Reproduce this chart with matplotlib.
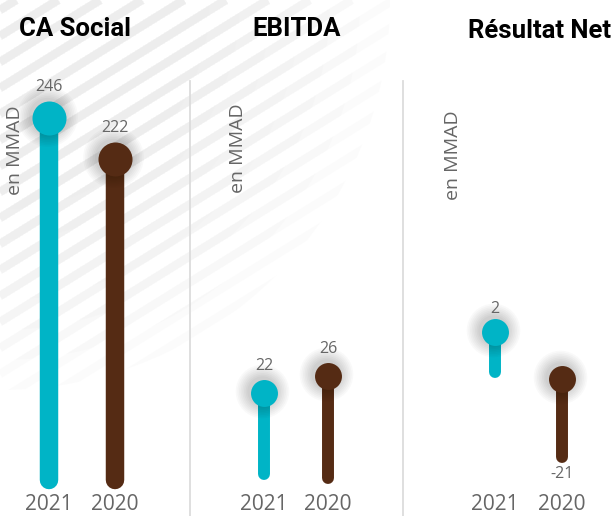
import matplotlib
matplotlib.use('Agg')
import matplotlib.pyplot as plt
import matplotlib.transforms as mtransforms
from matplotlib.patches import Circle

# data
titles = ['CA Social', 'EBITDA', 'Résultat Net']
years = ['2021', '2020']
ca_social = [246, 222]
ebitda = [22, 26]
resultat_net = [2, -21]
unit_label = 'en MMAD'

series = [ca_social, ebitda, resultat_net]

TEAL = '#00B4C6'
BROWN = '#552B14'
GRAY = '#666666'
colors = [TEAL, BROWN]

W, H = 613, 516
fig = plt.figure(figsize=(W / 100, H / 100), dpi=100)
fig.patch.set_facecolor('white')

# faint diagonal stripes in the background (pixel coords), fading out
bg = fig.add_axes([0, 0, 1, 1], zorder=0)
bg.set_xlim(0, W)
bg.set_ylim(H, 0)
bg.axis('off')
for r in range(390, 180, -30):
    clip = Circle((0, 0), r, transform=bg.transData)
    for c in range(10, 760, 26):
        ln, = bg.plot([0, c / 0.62], [c, 0], color='#e8e8e8', lw=6,
                      alpha=0.15, solid_capstyle='butt')
        ln.set_clip_path(clip)

# separators
for xs in (190, 403):
    bg.plot([xs, xs], [81, H], color='#dcdcdc', lw=1.3)

# per-panel layout (pixel centres, y range, stem ends, sizes)
layout = [
    dict(x0=49, sp=66, ylim=(13, 315), floor=(34, 34), stem=13.3, dot=24.5,
         lab=31, title=(75, 29), unit=(15, 150)),
    dict(x0=264, sp=64, ylim=(-6.9, 114.5), floor=(3, 2), stem=8.6, dot=19.4,
         lab=27, title=(297, 29), unit=(238, 148)),
    dict(x0=495, sp=67, ylim=(-88.1, 164.5), floor=(-17.6, -59.2), stem=8.6,
         dot=19.4, lab=23, title=(539, 31), unit=(453, 155)),
]

for vals, title, lay in zip(series, titles, layout):
    left = (lay['x0'] - 0.5 * lay['sp']) / W
    ax = fig.add_axes([left, 0, 2 * lay['sp'] / W, 1], zorder=1)
    ax.patch.set_alpha(0)
    ax.set_xlim(-0.5, 1.5)
    ax.set_ylim(*lay['ylim'])
    ax.axis('off')

    shadow_tr = mtransforms.offset_copy(ax.transData, fig=fig, x=-2, y=2,
                                        units='dots')
    for i, (v, col) in enumerate(zip(vals, colors)):
        ax.plot([i, i], [lay['floor'][i], v], color=col, lw=lay['stem'],
                solid_capstyle='round', zorder=2, clip_on=False)
        for k in range(1, 9):
            ax.plot(i, v, 'o', ms=lay['dot'] + k * 2.4, color='black',
                    alpha=0.022, mec='none', transform=shadow_tr, zorder=2.5,
                    clip_on=False)
        ax.plot(i, v, 'o', ms=lay['dot'], color=col, mec='none', zorder=3,
                clip_on=False)

        if v >= 0:
            ax.annotate(str(v), (i, v), xytext=(0, lay['lab'] * 0.72),
                        textcoords='offset points', ha='center', va='center',
                        fontsize=11.5, color=GRAY, family='Open Sans')
        else:
            ax.annotate(str(v), (i, lay['floor'][i]), xytext=(0, -12),
                        textcoords='offset points', ha='center', va='center',
                        fontsize=11.5, color=GRAY, family='Open Sans')

        ax.text(i, (H - 505) / H, years[i], transform=ax.get_xaxis_transform(),
                ha='center', va='center', fontsize=15, color=GRAY,
                family='Open Sans')

    tx, ty = lay['title']
    fig.text(tx / W, 1 - ty / H, title, ha='center', va='center',
             fontsize=18.5, fontweight='bold', family='Roboto', color='black')
    ux, uy = lay['unit']
    fig.text(ux / W, 1 - uy / H, unit_label, ha='center', va='center',
             rotation=90, fontsize=14, color=GRAY, family='Open Sans')

fig.savefig('out.png', dpi=100, facecolor='white')
